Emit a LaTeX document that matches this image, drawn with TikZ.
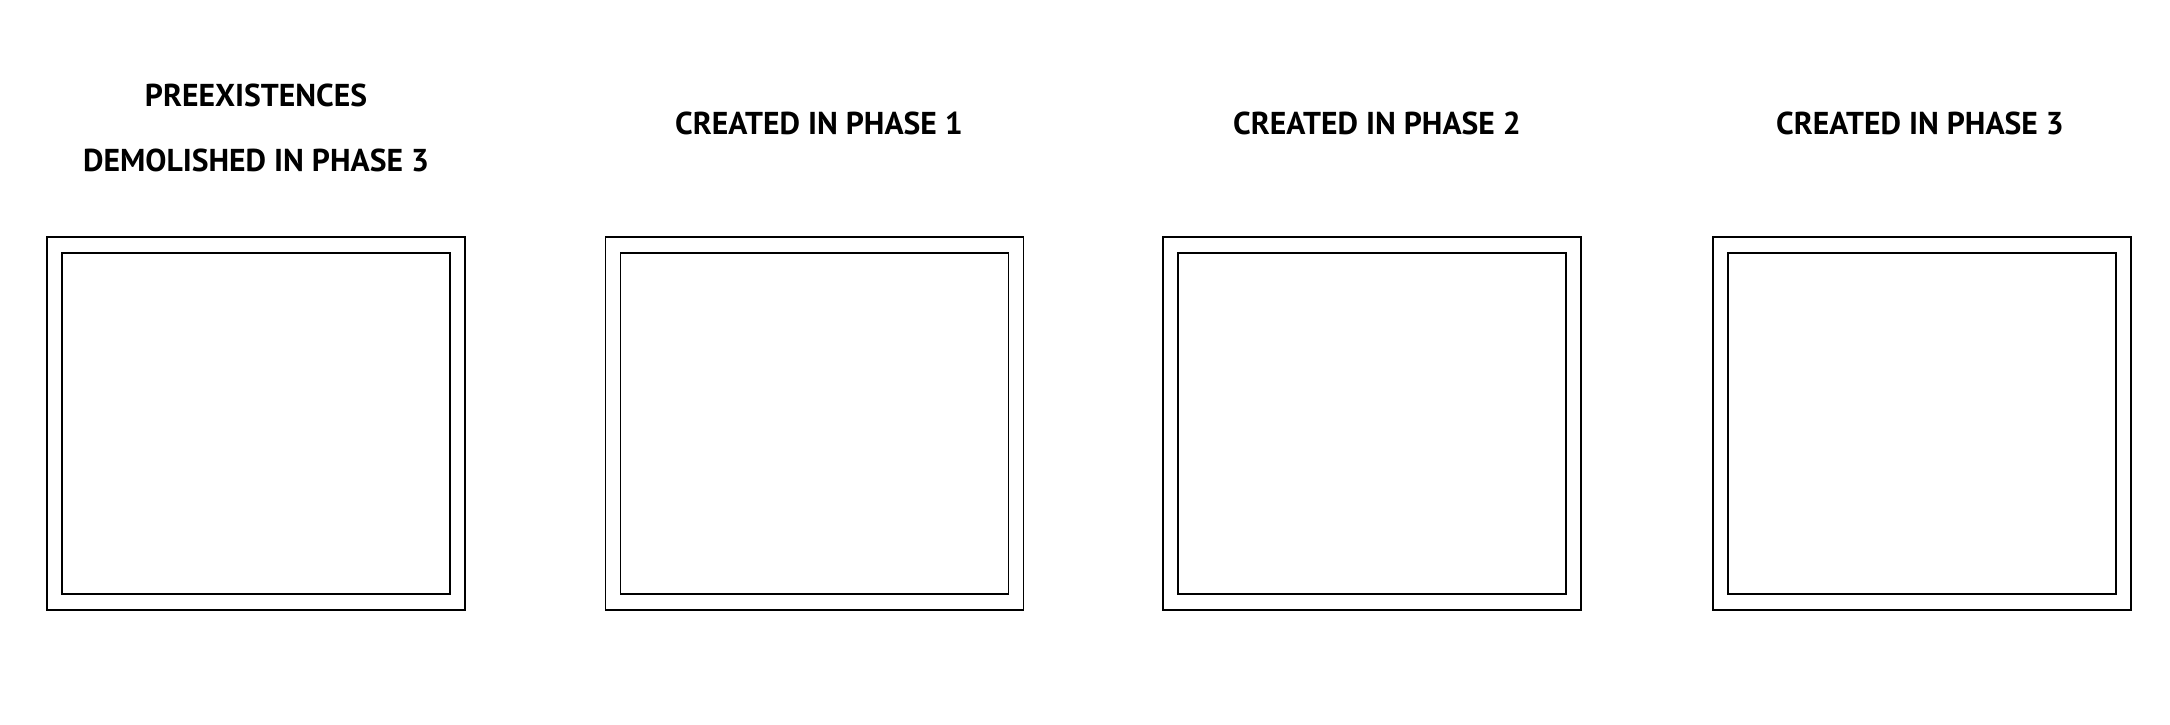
\documentclass[tikz,border=0pt]{standalone}
\usepackage{fontspec}
\setmainfont{PT Sans}
\usepackage{tikz}
\newcommand{\lbl}{\fontsize{9}{11}\selectfont\bfseries}

\begin{document}
\begin{tikzpicture}[x=0.1mm,y=-0.1mm,
   outerbox/.style={draw,minimum width=41.8mm,minimum height=37.3mm,inner sep=0pt},
   innerbox/.style={draw,minimum width=38.8mm,minimum height=34.1mm,inner sep=0pt},
   title/.style={inner sep=0pt,font=\lbl}]
   \useasboundingbox (0,0) rectangle (2170,725);
   \node[outerbox] (o0) at ( 256, 423.5) {};
   \node[innerbox] (i0) at (o0.center) {};
   \node[outerbox] (o1) at ( 814.5, 423.5) {};
   \node[innerbox] (i1) at (o1.center) {};
   \node[outerbox] (o2) at (1372, 423.5) {};
   \node[innerbox] (i2) at (o2.center) {};
   \node[outerbox] (o3) at (1922, 423.5) {};
   \node[innerbox] (i3) at (o3.center) {};
   \node[title] (t0a) at ( 256,  95.5) {PREEXISTENCES};
   \node[title] (t0b) at ( 256, 160.5) {DEMOLISHED IN PHASE 3};
   \node[title] (t1)  at ( 819, 123) {CREATED IN PHASE 1};
   \node[title] (t2)  at (1377, 123) {CREATED IN PHASE 2};
   \node[title] (t3)  at (1920, 123) {CREATED IN PHASE 3};
\end{tikzpicture}
\end{document}
